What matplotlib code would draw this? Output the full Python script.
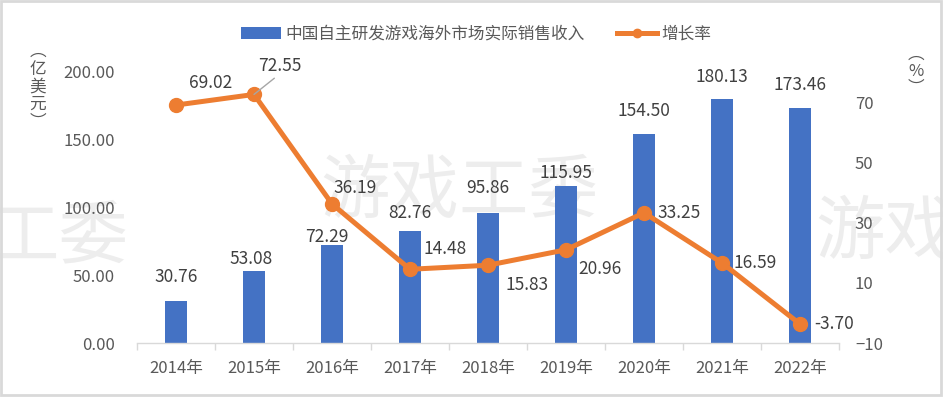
import matplotlib
matplotlib.use("Agg")
import matplotlib.pyplot as plt
from matplotlib.patches import Rectangle
from matplotlib.ticker import FixedLocator, FormatStrFormatter

plt.rcParams['font.family'] = ['Noto Sans CJK SC', 'DejaVu Sans']

years = ["2014年", "2015年", "2016年", "2017年", "2018年", "2019年", "2020年", "2021年", "2022年"]
revenue = [30.76, 53.08, 72.29, 82.76, 95.86, 115.95, 154.50, 180.13, 173.46]
growth = [69.02, 72.55, 36.19, 14.48, 15.83, 20.96, 33.25, 16.59, -3.70]
series_names = ["中国自主研发游戏海外市场实际销售收入", "增长率"]
left_ticks = [0, 50, 100, 150, 200]
right_ticks = [-10, 10, 30, 50, 70]

BLUE = "#4472C4"
ORANGE = "#ED7D31"
TICK = "#595959"
LABEL = "#404040"

W, H = 943, 397
fig = plt.figure(figsize=(W / 100, H / 100), dpi=100)

def fx(px):
    return px / W

def fy(py):
    return 1 - py / H

# watermark text
wm = dict(color="#ededed", fontsize=50, zorder=-1, va="center")
fig.text(fx(128), fy(238), "工委", ha="right", **wm)
fig.text(fx(320), fy(192), "游戏工委", ha="left", **wm)
fig.text(fx(815), fy(233), "游戏", ha="left", **wm)

ax = fig.add_axes([fx(137), fy(343), fx(839 - 137), (343 - 72) / H])
ax.patch.set_visible(False)
x = list(range(len(years)))
bars = ax.bar(x, revenue, width=0.27, color=BLUE, zorder=2, label=series_names[0])
ax.set_xlim(-0.5, len(years) - 0.5)
ax.set_ylim(0, 200)
ax.yaxis.set_major_locator(FixedLocator(left_ticks))
ax.yaxis.set_major_formatter(FormatStrFormatter("%.2f"))
ax.tick_params(axis="y", length=0, pad=16, labelsize=12, labelcolor=TICK)
ax.set_xticks(x)
ax.set_xticklabels(years)
ax.set_xticks([i - 0.5 for i in range(len(years) + 1)], minor=True)
ax.tick_params(axis="x", which="major", length=0, pad=12, labelsize=12, labelcolor=TICK)
ax.tick_params(axis="x", which="minor", length=5, color="#d9d9d9", width=1)
for s in ["top", "left", "right"]:
    ax.spines[s].set_visible(False)
ax.spines["bottom"].set_color("#d9d9d9")
ax.spines["bottom"].set_linewidth(1)

# bar label offsets in pixels (dx, dy up from bar top to label centre)
bar_offs_px = [(0, 24), (-3, 12), (-5, 8), (0, 18), (0, 25), (0, 13), (0, 23), (0, 22), (0, 23)]
for i, (xi, v) in enumerate(zip(x, revenue)):
    dx, dy = bar_offs_px[i]
    ax.annotate(f"{v:.2f}", (xi, v), xytext=(dx * 0.72, dy * 0.72), textcoords="offset points",
                ha="center", va="center", fontsize=12.5, color=LABEL)

ax2 = ax.twinx()
ax2.set_ylim(-10, 80)
line, = ax2.plot(x, growth, color=ORANGE, lw=3.6, marker="o", markersize=10,
                 zorder=3, label=series_names[1])
ax2.yaxis.set_major_locator(FixedLocator(right_ticks))
ax2.tick_params(axis="y", length=0, pad=11.5, labelsize=12, labelcolor=TICK)
for s in ["top", "left", "right", "bottom"]:
    ax2.spines[s].set_visible(False)

# label offsets in pixels (dx right, dy up)
offs_px = [(35, 22), (26, 28), (23, 16), (35, 20), (39, -20), (34, -19), (35, 0), (33, 0), (34, 0)]
for i, (xi, v) in enumerate(zip(x, growth)):
    dx, dy = offs_px[i]
    kw = {}
    if i == 1:
        kw["arrowprops"] = dict(arrowstyle="-", color="#a6a6a6", lw=1, shrinkA=0, shrinkB=0,
                                relpos=(0.45, 0.0))
    ax2.annotate(f"{v:.2f}", (xi, v), xytext=(dx * 0.72, dy * 0.72), textcoords="offset points",
                 ha="center", va="center", fontsize=12.5, color=LABEL, zorder=4, **kw)

# axis unit labels (vertical)
fig.text(fx(38), fy(87), "︵\n亿\n美\n元\n︶", ha="center", va="center", fontsize=12,
         color=TICK, linespacing=1.05)
fig.text(fx(916), fy(71), "︵\n%\n︶", ha="center", va="center", fontsize=12,
         color=TICK, linespacing=1.0)

fig.legend(handles=[bars, line], labels=series_names, loc="center",
           bbox_to_anchor=(fx(476), fy(34)), ncol=2, frameon=False, fontsize=12,
           handlelength=2.4, columnspacing=1.9, handletextpad=0.3, markerscale=0.6,
           labelcolor=TICK)

fig.patches.append(Rectangle((fx(1), fy(395)), fx(940), (395 - 1) / H, transform=fig.transFigure,
                             fill=False, edgecolor="#d9d9d9", lw=2))

fig.savefig("out.png", dpi=100)
